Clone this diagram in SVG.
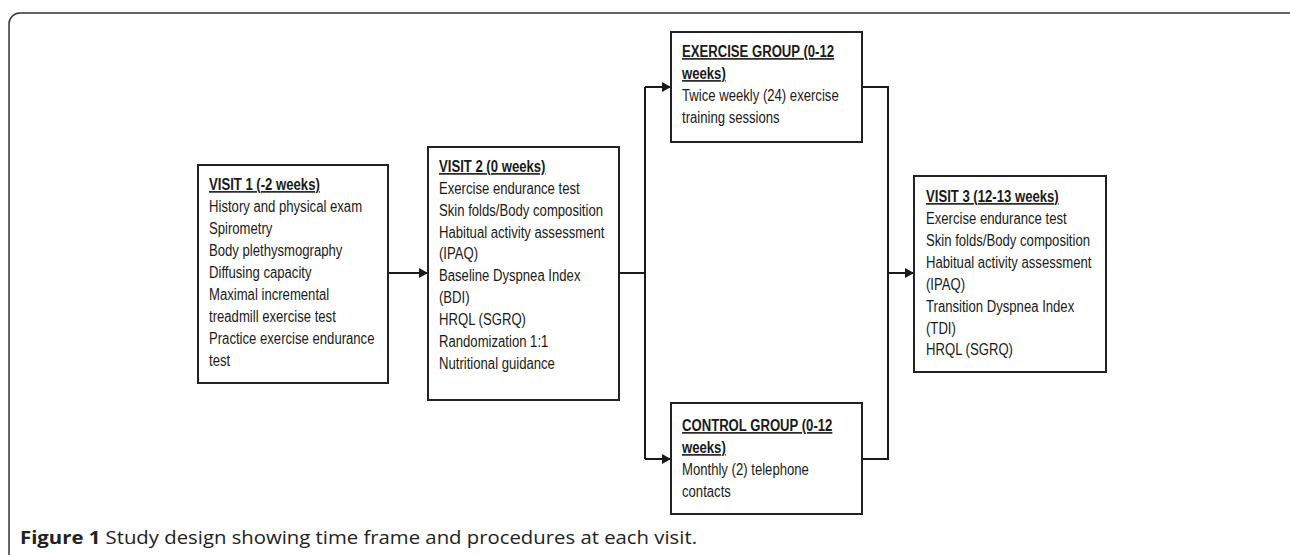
<svg xmlns="http://www.w3.org/2000/svg" width="1290" height="555" viewBox="0 0 1290 555">
<style>
.box{fill:#fff;stroke:#222;stroke-width:2}
.t{font-family:"Liberation Sans",Arial,sans-serif;font-size:16px;fill:#1a1a1a}
.b{font-weight:bold;text-decoration:underline}
.c{fill:none;stroke:#1a1a1a;stroke-width:2}
.cap{font-family:"Open Sans","Noto Sans",sans-serif;font-size:17.5px;fill:#222}
</style>
<defs>
<marker id="ah" markerUnits="userSpaceOnUse" markerWidth="10" markerHeight="10" refX="9" refY="5" orient="auto">
<path d="M0,0 L9,5 L0,10 z" fill="#1a1a1a"/>
</marker>
</defs>
<rect x="0" y="0" width="1290" height="555" fill="#fff"/>
<rect id="frame" x="9" y="13" width="1300" height="600" rx="11" ry="11" fill="none" stroke="#333" stroke-width="1.5"/>

<g id="connectors">
<line class="c" x1="388" y1="273" x2="428" y2="273" marker-end="url(#ah)"/>
<path class="c" d="M619,273 H645"/>
<path class="c" d="M645,87 V459"/>
<line class="c" x1="645" y1="87" x2="671" y2="87" marker-end="url(#ah)"/>
<line class="c" x1="645" y1="459" x2="671" y2="459" marker-end="url(#ah)"/>
<path class="c" d="M862,87 H888 V459 H862"/>
<line class="c" x1="888" y1="273" x2="914" y2="273" marker-end="url(#ah)"/>
</g>

<g id="visit1">
<rect class="box" x="198" y="165" width="190" height="218"/>
<g transform="translate(209,0) scale(0.82,1)">
<text class="t b" y="190">VISIT 1 (-2 weeks)</text>
<text class="t" y="212">History and physical exam</text>
<text class="t" y="234">Spirometry</text>
<text class="t" y="256">Body plethysmography</text>
<text class="t" y="278">Diffusing capacity</text>
<text class="t" y="300">Maximal incremental</text>
<text class="t" y="322">treadmill exercise test</text>
<text class="t" y="344">Practice exercise endurance</text>
<text class="t" y="366">test</text>
</g>
</g>

<g id="visit2">
<rect class="box" x="428" y="147" width="191" height="253"/>
<g transform="translate(439,0) scale(0.82,1)">
<text class="t b" y="172">VISIT 2 (0 weeks)</text>
<text class="t" y="194">Exercise endurance test</text>
<text class="t" y="216">Skin folds/Body composition</text>
<text class="t" y="238">Habitual activity assessment</text>
<text class="t" y="259">(IPAQ)</text>
<text class="t" y="281">Baseline Dyspnea Index</text>
<text class="t" y="303">(BDI)</text>
<text class="t" y="325">HRQL (SGRQ)</text>
<text class="t" y="347">Randomization 1:1</text>
<text class="t" y="369">Nutritional guidance</text>
</g>
</g>

<g id="exercise">
<rect class="box" x="671" y="32" width="191" height="110"/>
<g transform="translate(682,0) scale(0.82,1)">
<text class="t b" y="57">EXERCISE GROUP (0-12</text>
<text class="t b" y="79">weeks)</text>
<text class="t" y="101">Twice weekly (24) exercise</text>
<text class="t" y="123">training sessions</text>
</g>
</g>

<g id="control">
<rect class="box" x="671" y="403" width="191" height="111"/>
<g transform="translate(682,0) scale(0.82,1)">
<text class="t b" y="431">CONTROL GROUP (0-12</text>
<text class="t b" y="453">weeks)</text>
<text class="t" y="475">Monthly (2) telephone</text>
<text class="t" y="497">contacts</text>
</g>
</g>

<g id="visit3">
<rect class="box" x="914" y="176" width="192" height="196"/>
<g transform="translate(926,0) scale(0.82,1)">
<text class="t b" y="202">VISIT 3 (12-13 weeks)</text>
<text class="t" y="224">Exercise endurance test</text>
<text class="t" y="246">Skin folds/Body composition</text>
<text class="t" y="268">Habitual activity assessment</text>
<text class="t" y="290">(IPAQ)</text>
<text class="t" y="312">Transition Dyspnea Index</text>
<text class="t" y="334">(TDI)</text>
<text class="t" y="355">HRQL (SGRQ)</text>
</g>
</g>

<g id="caption">
<text class="cap" x="20" y="544" textLength="677" lengthAdjust="spacingAndGlyphs"><tspan font-weight="bold">Figure 1</tspan> Study design showing time frame and procedures at each visit.</text>
</g>
</svg>
